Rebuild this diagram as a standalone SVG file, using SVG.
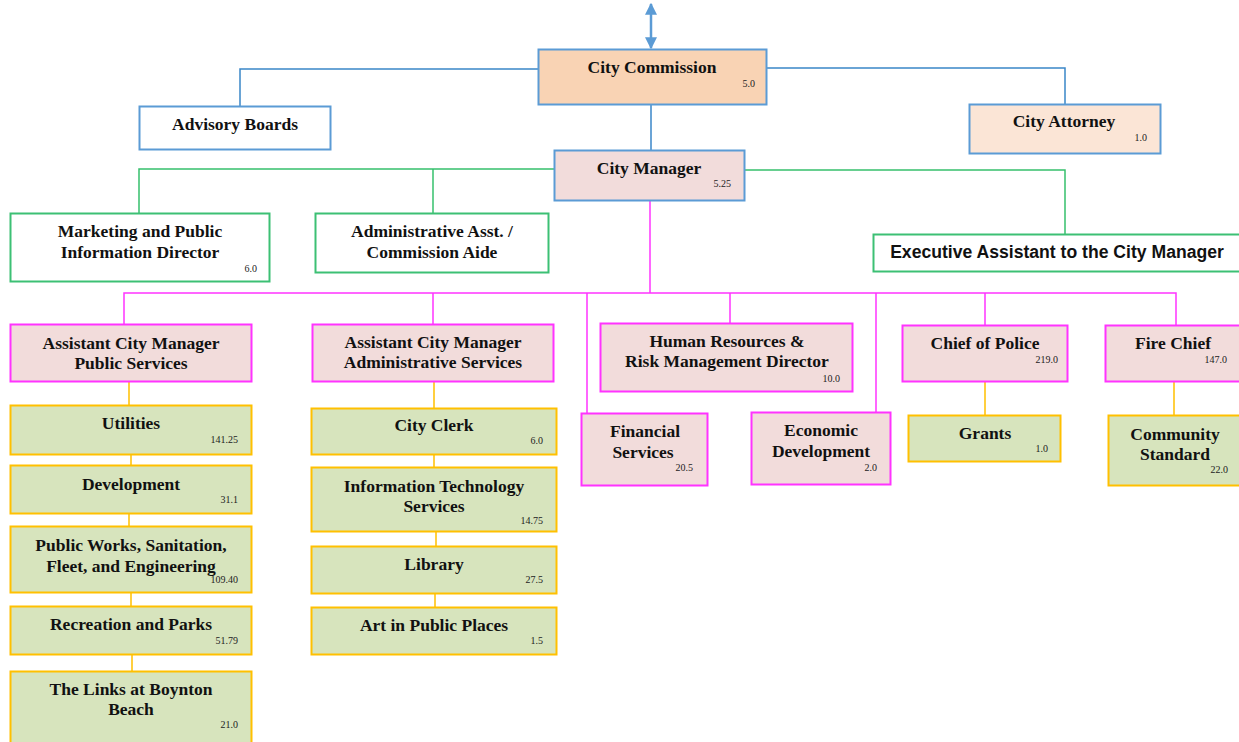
<svg xmlns="http://www.w3.org/2000/svg" width="1239" height="742" viewBox="0 0 1239 742">
<style>
.t{font-family:"Liberation Serif","Times New Roman",serif;font-weight:bold;font-size:17.5px;fill:#111;text-anchor:middle}
.n{font-family:"Liberation Serif","Times New Roman",serif;font-size:10px;fill:#222;text-anchor:end}
.s{font-family:"Liberation Sans",Arial,sans-serif;font-weight:bold;font-size:17.6px;fill:#111;text-anchor:middle}
.blue{stroke:#5b9bd5;stroke-width:2}
.grn{stroke:#3cc074;stroke-width:2}
.mag{stroke:#ff33ff;stroke-width:2}
.org{stroke:#ffc000;stroke-width:2}
.lb{fill:none;stroke:#3a86c8;stroke-width:1.5}
.lg{fill:none;stroke:#36c06c;stroke-width:1.5}
.lm{fill:none;stroke:#ff33ff;stroke-width:1.5}
.lo{fill:none;stroke:#ffc000;stroke-width:1.5}
</style>
<defs>
<marker id="ah" viewBox="0 0 10 10" refX="9" refY="5" markerWidth="12" markerHeight="12" orient="auto-start-reverse" markerUnits="userSpaceOnUse">
<path d="M0,0 L10,5 L0,10 z" fill="#5b9bd5"/>
</marker>
</defs>
<rect width="1239" height="742" fill="#fff"/>
<g id="connectors">
<line x1="651" y1="4" x2="651" y2="48" stroke="#5b9bd5" stroke-width="2.5" marker-start="url(#ah)" marker-end="url(#ah)"/>
<path class="lb" d="M538,69 H240 V106"/>
<path class="lb" d="M767,68 H1065 V104"/>
<path class="lb" d="M651,105 V150"/>
<path class="lg" d="M554,169 H139 V213"/>
<path class="lg" d="M433,169 V213"/>
<path class="lg" d="M745,170 H1065 V234"/>
<path class="lm" d="M650,201 V293"/>
<path class="lm" d="M124,324 V293 H1176 V325"/>
<path class="lm" d="M433,293 V324"/>
<path class="lm" d="M587,293 V413"/>
<path class="lm" d="M730,293 V323"/>
<path class="lm" d="M876,293 V412"/>
<path class="lm" d="M985,293 V325"/>
<path class="lo" d="M129,382 V405 M131,455 V465 M129,514 V526 M131,593 V606 M132,655 V671"/>
<path class="lo" d="M434,382 V408 M434,455 V467 M436,532 V546 M435,594 V607"/>
<path class="lo" d="M985,382 V415 M1174,382 V415"/>
</g>
<g id="city-commission">
<rect x="538.5" y="49.5" width="228" height="55" fill="#f9d3b4" class="blue"/>
<text class="t" x="652" y="73">City Commission</text>
<text class="n" x="755" y="87">5.0</text>
</g>
<g id="advisory-boards">
<rect x="139.5" y="106.5" width="191" height="43" fill="#fff" class="blue"/>
<text class="t" x="235" y="130">Advisory Boards</text>
</g>
<g id="city-attorney">
<rect x="969.5" y="104.5" width="191" height="49" fill="#fbe5d6" class="blue"/>
<text class="t" x="1064" y="127">City Attorney</text>
<text class="n" x="1147" y="141">1.0</text>
</g>
<g id="city-manager">
<rect x="554.5" y="150.5" width="190" height="50" fill="#f2dcdb" class="blue"/>
<text class="t" x="649" y="174">City Manager</text>
<text class="n" x="731" y="187">5.25</text>
</g>
<g id="marketing">
<rect x="10.5" y="213.5" width="259" height="68" fill="#fff" class="grn"/>
<text class="t" x="140" y="237">Marketing and Public</text>
<text class="t" x="140" y="258">Information Director</text>
<text class="n" x="257" y="272">6.0</text>
</g>
<g id="admin-asst">
<rect x="315.5" y="213.5" width="233" height="59" fill="#fff" class="grn"/>
<text class="t" x="432" y="237">Administrative Asst. /</text>
<text class="t" x="432" y="258">Commission Aide</text>
</g>
<g id="exec-asst">
<rect x="873.5" y="234.5" width="370" height="37" fill="#fff" class="grn"/>
<text class="s" x="1057" y="258">Executive Assistant to the City Manager</text>
</g>
<g id="acm-public">
<rect x="10.5" y="324.5" width="241" height="57" fill="#f2dcdb" class="mag"/>
<text class="t" x="131" y="349">Assistant City Manager</text>
<text class="t" x="131" y="369">Public Services</text>
</g>
<g id="acm-admin">
<rect x="312.5" y="324.5" width="241" height="57" fill="#f2dcdb" class="mag"/>
<text class="t" x="433" y="348">Assistant City Manager</text>
<text class="t" x="433" y="368">Administrative Services</text>
</g>
<g id="hr">
<rect x="600.5" y="323.5" width="252" height="68" fill="#f2dcdb" class="mag"/>
<text class="t" x="727" y="347">Human Resources &amp;</text>
<text class="t" x="727" y="367">Risk Management Director</text>
<text class="n" x="840" y="382">10.0</text>
</g>
<g id="financial">
<rect x="581.5" y="413.5" width="126" height="72" fill="#f2dcdb" class="mag"/>
<text class="t" x="645" y="437">Financial</text>
<text class="t" x="643" y="458">Services</text>
<text class="n" x="693" y="471">20.5</text>
</g>
<g id="economic">
<rect x="751.5" y="412.5" width="139" height="72" fill="#f2dcdb" class="mag"/>
<text class="t" x="821" y="436">Economic</text>
<text class="t" x="821" y="457">Development</text>
<text class="n" x="877" y="471">2.0</text>
</g>
<g id="police">
<rect x="902.5" y="325.5" width="165" height="56" fill="#f2dcdb" class="mag"/>
<text class="t" x="985" y="349">Chief of Police</text>
<text class="n" x="1058" y="363">219.0</text>
</g>
<g id="fire">
<rect x="1105.5" y="325.5" width="140" height="56" fill="#f2dcdb" class="mag"/>
<text class="t" x="1173" y="349">Fire Chief</text>
<text class="n" x="1227" y="363">147.0</text>
</g>
<g id="grants">
<rect x="908.5" y="415.5" width="152" height="46" fill="#d7e4bd" class="org"/>
<text class="t" x="985" y="439">Grants</text>
<text class="n" x="1048" y="452">1.0</text>
</g>
<g id="community">
<rect x="1108.5" y="415.5" width="140" height="70" fill="#d7e4bd" class="org"/>
<text class="t" x="1175" y="440">Community</text>
<text class="t" x="1175" y="460">Standard</text>
<text class="n" x="1228" y="473">22.0</text>
</g>
<g id="utilities">
<rect x="10.5" y="405.5" width="241" height="49" fill="#d7e4bd" class="org"/>
<text class="t" x="131" y="429">Utilities</text>
<text class="n" x="238" y="443">141.25</text>
</g>
<g id="development">
<rect x="10.5" y="465.5" width="241" height="48" fill="#d7e4bd" class="org"/>
<text class="t" x="131" y="490">Development</text>
<text class="n" x="238" y="503">31.1</text>
</g>
<g id="public-works">
<rect x="10.5" y="526.5" width="241" height="66" fill="#d7e4bd" class="org"/>
<text class="t" x="131" y="551">Public Works, Sanitation,</text>
<text class="t" x="131" y="572">Fleet, and Engineering</text>
<text class="n" x="238" y="583">109.40</text>
</g>
<g id="recreation">
<rect x="10.5" y="606.5" width="241" height="48" fill="#d7e4bd" class="org"/>
<text class="t" x="131" y="630">Recreation and Parks</text>
<text class="n" x="238" y="644">51.79</text>
</g>
<g id="links">
<rect x="10.5" y="671.5" width="241" height="80" fill="#d7e4bd" class="org"/>
<text class="t" x="131" y="695">The Links at Boynton</text>
<text class="t" x="131" y="715">Beach</text>
<text class="n" x="238" y="728">21.0</text>
</g>
<g id="city-clerk">
<rect x="311.5" y="408.5" width="245" height="46" fill="#d7e4bd" class="org"/>
<text class="t" x="434" y="431">City Clerk</text>
<text class="n" x="543" y="444">6.0</text>
</g>
<g id="it">
<rect x="311.5" y="467.5" width="245" height="64" fill="#d7e4bd" class="org"/>
<text class="t" x="434" y="492">Information Technology</text>
<text class="t" x="434" y="512">Services</text>
<text class="n" x="543" y="524">14.75</text>
</g>
<g id="library">
<rect x="311.5" y="546.5" width="245" height="47" fill="#d7e4bd" class="org"/>
<text class="t" x="434" y="570">Library</text>
<text class="n" x="543" y="583">27.5</text>
</g>
<g id="art">
<rect x="311.5" y="607.5" width="245" height="47" fill="#d7e4bd" class="org"/>
<text class="t" x="434" y="631">Art in Public Places</text>
<text class="n" x="543" y="644">1.5</text>
</g>
</svg>
